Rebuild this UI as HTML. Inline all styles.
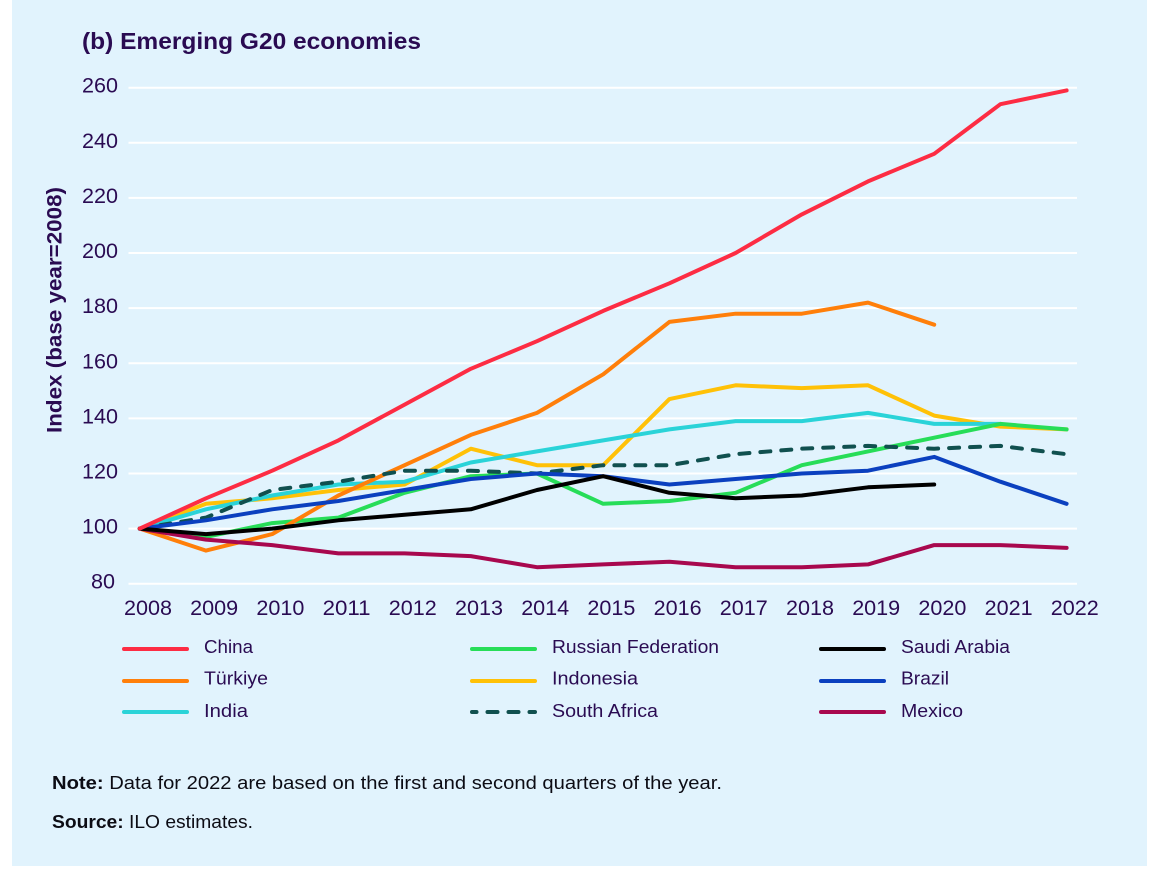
<!DOCTYPE html>
<html lang="en">
<head>
<meta charset="utf-8">
<title>Emerging G20 economies</title>
<style>
html,body{margin:0;padding:0;background:#fff;width:1166px;height:878px;overflow:hidden}
svg{display:block}
text{font-family:"Liberation Sans",sans-serif;fill:#2a0b52}
.tick{font-size:21.5px}
.leg{font-size:18.5px}
.foot{font-size:18.5px;fill:#0c0c14}
.b{font-weight:700}
</style>
</head>
<body>
<svg id="chart" width="1166" height="878" viewBox="0 0 1166 878" xmlns="http://www.w3.org/2000/svg">
<rect x="12" y="0" width="1135" height="866" fill="#e1f3fd"/>
<text x="82" y="49" class="b" font-size="23" textLength="339" lengthAdjust="spacingAndGlyphs">(b) Emerging G20 economies</text>
<text class="b" font-size="21" transform="translate(61.5,433) rotate(-90)" textLength="246" lengthAdjust="spacingAndGlyphs">Index (base year=2008)</text>
<g id="grid"></g>
<g id="yticks"></g>
<g id="xticks"></g>
<g id="lines"></g>
<g id="legend"></g>
<text x="52" y="789" class="foot" textLength="670" lengthAdjust="spacingAndGlyphs"><tspan class="b">Note:</tspan> Data for 2022 are based on the first and second quarters of the year.</text>
<text x="52" y="828" class="foot" textLength="201" lengthAdjust="spacingAndGlyphs"><tspan class="b">Source:</tspan> ILO estimates.</text>
</svg>
<script>
var years = [2008,2009,2010,2011,2012,2013,2014,2015,2016,2017,2018,2019,2020,2021,2022];
var yTickValues = [80,100,120,140,160,180,200,220,240,260];
var china = [100,111,121,132,145,158,168,179,189,200,214,226,236,254,259];
var turkiye = [100,92,98,112,123,134,142,156,175,178,178,182,174];
var india = [100,107,112,116,117,124,128,132,136,139,139,142,138,138];
var russia = [100,97,102,104,113,119,120,109,110,113,123,128,133,138,136];
var saudiArabia = [100,98,100,103,105,107,114,119,113,111,112,115,116];
var indonesia = [100,109,111,114,116,129,123,123,147,152,151,152,141,137,136];
var brazil = [100,103,107,110,114,118,120,119,116,118,120,121,126,117,109];
var southAfrica = [100,104,114,117,121,121,120,123,123,127,129,130,129,130,127];
var mexico = [100,96,94,91,91,90,86,87,88,86,86,87,94,94,93];
var seriesNames = ['Indonesia','India','Russian Federation','Türkiye','South Africa','Brazil','Mexico','Saudi Arabia','China'];
var seriesValues = [indonesia,india,russia,turkiye,southAfrica,brazil,mexico,saudiArabia,china];
var seriesColors = ['#ffc107','#2ad3d8','#27dd58','#ff7f0a','#10504f','#0b40bf','#a8084e','#000000','#fd2c43'];
var legendNames = ['China','Türkiye','India','Russian Federation','Indonesia','South Africa','Saudi Arabia','Brazil','Mexico'];
var legendColors = ['#fd2c43','#ff7f0a','#2ad3d8','#27dd58','#ffc107','#10504f','#000000','#0b40bf','#a8084e'];

var NS = 'http://www.w3.org/2000/svg';
function xScale(year){ return 139.8 + (year - years[0]) * 66.2; }
function yScale(v){ return 583.7 - (v - 80) * 2.7556; }
function make(tag, attrs, parent){
  var el = document.createElementNS(NS, tag);
  for (var k in attrs) el.setAttribute(k, attrs[k]);
  parent.appendChild(el);
  return el;
}
function slug(s){ return s.toLowerCase().replace(/ü/g,'u').replace(/[^a-z]+/g,'-'); }

var gridG = document.getElementById('grid');
var yG = document.getElementById('yticks');
yTickValues.forEach(function(v){
  var g = make('line', {x1:128.5, x2:1077, y1:yScale(v), y2:yScale(v), stroke:'#ffffff', 'stroke-width':2}, gridG);
  
  
  var isShort = String(v).length < 3;
  var t = make('text', {x:isShort ? 91 : 82, y:yScale(v)+5, 'class':'tick', textLength:isShort ? 24 : 36, lengthAdjust:'spacingAndGlyphs'}, yG);
  t.textContent = v;
  
  
});

var xG = document.getElementById('xticks');
years.forEach(function(y){
  var t = make('text', {x:xScale(y)-15.8, y:615, 'class':'tick', textLength:48, lengthAdjust:'spacingAndGlyphs'}, xG);
  t.textContent = y;
  
  
});

var lineG = document.getElementById('lines');
seriesNames.forEach(function(name, i){
  var pts = seriesValues[i].map(function(v, j){ return xScale(years[j]).toFixed(1) + ',' + yScale(v).toFixed(1); }).join(' ');
  var attrs = {points:pts, fill:'none', stroke:seriesColors[i], 'stroke-width':4, 'stroke-linejoin':'round', 'stroke-linecap':'round'};
  if (name === 'South Africa') attrs['stroke-dasharray'] = '10 11';
  var p = make('polyline', attrs, lineG);
  
  
});

var legG = document.getElementById('legend');
var legendColX = [124, 472, 821];
var legendTextX = [204, 552, 901];
var legendRowY = [649, 681, 712];
var legendTextY = [653, 684.5, 717];
var legendWidths = [49, 64, 44, 167, 86, 106, 109, 48, 62];
legendNames.forEach(function(name, i){
  var c = Math.floor(i / 3), r = i % 3;
  var attrs = {x1:legendColX[c], x2:legendColX[c]+63, y1:legendRowY[r], y2:legendRowY[r], stroke:legendColors[i], 'stroke-width':4, 'stroke-linecap':'round'};
  if (name === 'South Africa') attrs['stroke-dasharray'] = '10 11';
  if (name === 'South Africa') attrs['stroke-dashoffset'] = '5.5';
  var l = make('line', attrs, legG);
  
  
  var t = make('text', {x:legendTextX[c], y:legendTextY[r], 'class':'leg', textLength:legendWidths[i], lengthAdjust:'spacingAndGlyphs'}, legG);
  t.textContent = name;
  
  
});
</script>
</body>
</html>
